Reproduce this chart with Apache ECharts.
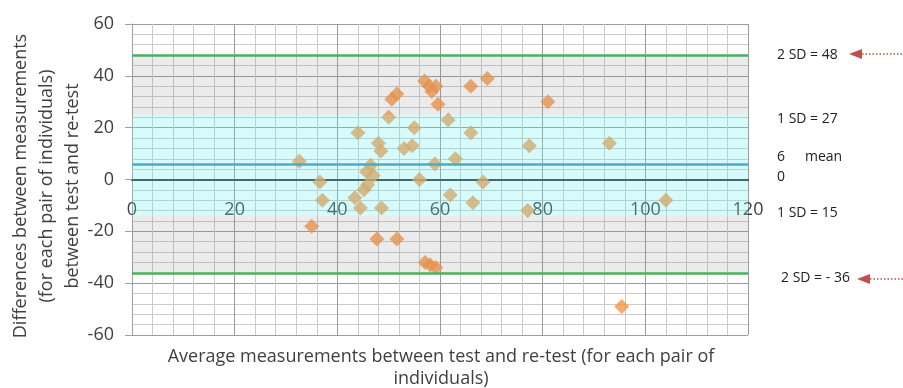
<!DOCTYPE html>
<html><head><meta charset="utf-8">
<script src="https://cdn.jsdelivr.net/npm/echarts@6/dist/echarts.min.js"></script>
<style>html,body{margin:0;padding:0;background:#fff}#c{width:903px;height:388px}</style>
</head><body><div id="c"></div>
<script>
// Average of test and re-test (x) and difference (y)
const avgValues = [32.6, 35.0, 36.6, 37.1, 43.4, 44.0, 44.5, 45.2, 45.9, 45.7, 46.5, 47.0, 47.7, 48.0, 48.5, 48.6,
  50.0, 50.6, 51.6, 51.6, 53.0, 54.6, 55.0, 56.0, 57.0, 57.1, 57.9, 58.1, 58.4, 59.2, 59.2, 59.0, 59.6,
  61.6, 62.0, 63.0, 66.0, 66.0, 66.4, 68.4, 69.2, 77.1, 77.4, 81.0, 93.0, 95.4, 104.0];
const diffValues = [7, -18, -1, -8, -7, 18, -11, -4, -2, 3, 5.5, 1.5, -23, 14, 11, -11,
  24, 31, 33, -23, 12, 13, 20, 0, 38, -32, 36, -33, 34, 36, -34, 6, 29,
  23, -6, 8, 36, 18, -9, -1, 39, -12, 13, 30, 14, -49, -8];
const meanDiff = 6;
const limitsOfAgreement = [48, -36];
const oneSdBand = [25, -14];
const xTickValues = [0, 20, 40, 60, 80, 100, 120];
const yTickValues = [-60, -40, -20, 0, 20, 40, 60];
const annotationTexts = ['2 SD = 48', '1 SD = 27', '6', 'mean', '0', '1 SD = 15', '2 SD = - 36'];
const xTitle = 'Average measurements between test and re-test (for each pair of\nindividuals)';
const yTitle = 'Differences between measurements\n(for each pair of individuals)\nbetween test and re-test';

const FONT = '"Open Sans", sans-serif';
const chart = echarts.init(document.getElementById('c'), null, {renderer: 'canvas'});
const points = avgValues.map((x, i) => [x, diffValues[i]]);
const gray = 'rgba(128,128,128,0.16)';
const cyan = 'rgba(100,236,236,0.26)';
const red = '#C0504D';
const gridTop = 24, gridBottom = 53, H = 388;
const yMin = yTickValues[0], yMax = yTickValues[yTickValues.length - 1];
// distance from the bottom edge of the grid up to the y = 0 line
const zeroOffset = (H - gridTop - gridBottom) * (0 - yMin) / (yMax - yMin);

chart.setOption({
  animation: false,
  grid: {left: 132, right: 155, top: gridTop, bottom: gridBottom},
  xAxis: {
    type: 'value', min: xTickValues[0], max: xTickValues[xTickValues.length - 1], interval: 20,
    offset: -zeroOffset,
    axisLine: {onZero: false, lineStyle: {color: '#3a3a3a', width: 2}},
    axisTick: {show: false},
    axisLabel: {margin: 21, fontSize: 18, fontFamily: FONT, color: '#404040'},
    splitLine: {show: true, lineStyle: {color: '#9c9c9c', width: 1}},
    minorTick: {show: false, splitNumber: 5},
    minorSplitLine: {show: true, lineStyle: {color: '#cbcbcb', width: 1}}
  },
  yAxis: {
    type: 'value', min: yMin, max: yMax, interval: 20,
    axisLine: {show: true, onZero: false, lineStyle: {color: '#a0a0a0', width: 1}},
    axisTick: {show: true, length: 7, lineStyle: {color: '#a0a0a0'}},
    axisLabel: {margin: 18, fontSize: 18, fontFamily: FONT, color: '#404040'},
    splitLine: {show: true, lineStyle: {color: '#9c9c9c', width: 1}},
    minorTick: {show: false, splitNumber: 5},
    minorSplitLine: {show: true, lineStyle: {color: '#cbcbcb', width: 1}}
  },
  series: [
    {
      type: 'scatter', data: points, z: 2,
      symbol: 'diamond', symbolSize: 15,
      itemStyle: {color: '#F79646'}
    },
    {
      type: 'scatter', data: [], silent: true,
      markArea: {
        z: 3, silent: true,
        data: [
          [{yAxis: limitsOfAgreement[0], itemStyle: {color: gray}}, {yAxis: oneSdBand[0]}],
          [{yAxis: oneSdBand[0], itemStyle: {color: cyan}}, {yAxis: oneSdBand[1]}],
          [{yAxis: oneSdBand[1], itemStyle: {color: gray}}, {yAxis: limitsOfAgreement[1]}]
        ]
      },
      markLine: {
        z: 5, silent: true, symbol: ['none', 'none'], label: {show: false},
        data: [
          {yAxis: limitsOfAgreement[0], lineStyle: {color: '#46B45A', width: 2.5, type: 'solid'}},
          {yAxis: limitsOfAgreement[1], lineStyle: {color: '#46B45A', width: 2.5, type: 'solid'}},
          {yAxis: meanDiff, lineStyle: {color: '#4BACC6', width: 2.5, type: 'solid'}}
        ]
      }
    }
  ],
  graphic: [
    {type: 'text', x: 47, y: 186, rotation: Math.PI / 2,
      style: {text: yTitle, font: '18px ' + FONT, fill: '#404040', align: 'center', verticalAlign: 'middle', lineHeight: 26}},
    {type: 'text', x: 441, y: 368,
      style: {text: xTitle, font: '18px ' + FONT, fill: '#404040', align: 'center', verticalAlign: 'middle', lineHeight: 22}},
    {type: 'text', x: 777, y: 55, style: {text: annotationTexts[0], font: '14px ' + FONT, fill: '#222', verticalAlign: 'middle'}},
    {type: 'text', x: 777, y: 119, style: {text: annotationTexts[1], font: '14px ' + FONT, fill: '#222', verticalAlign: 'middle'}},
    {type: 'text', x: 777, y: 157, style: {text: annotationTexts[2], font: '14px ' + FONT, fill: '#222', verticalAlign: 'middle'}},
    {type: 'text', x: 805, y: 157, style: {text: annotationTexts[3], font: '14px ' + FONT, fill: '#222', verticalAlign: 'middle'}},
    {type: 'text', x: 777, y: 177, style: {text: annotationTexts[4], font: '14px ' + FONT, fill: '#222', verticalAlign: 'middle'}},
    {type: 'text', x: 777, y: 213, style: {text: annotationTexts[5], font: '14px ' + FONT, fill: '#222', verticalAlign: 'middle'}},
    {type: 'text', x: 781, y: 278, style: {text: annotationTexts[6], font: '14px ' + FONT, fill: '#222', verticalAlign: 'middle'}},
    {type: 'polygon', shape: {points: [[849, 54], [862, 49], [862, 59]]}, style: {fill: red}},
    {type: 'line', shape: {x1: 862, y1: 54, x2: 903, y2: 54}, style: {stroke: red, lineWidth: 1.5, lineDash: [1.5, 2]}},
    {type: 'polygon', shape: {points: [[857, 279], [870, 274], [870, 284]]}, style: {fill: red}},
    {type: 'line', shape: {x1: 870, y1: 279, x2: 903, y2: 279}, style: {stroke: red, lineWidth: 1.5, lineDash: [1.5, 2]}}
  ]
});
</script>
</body></html>
